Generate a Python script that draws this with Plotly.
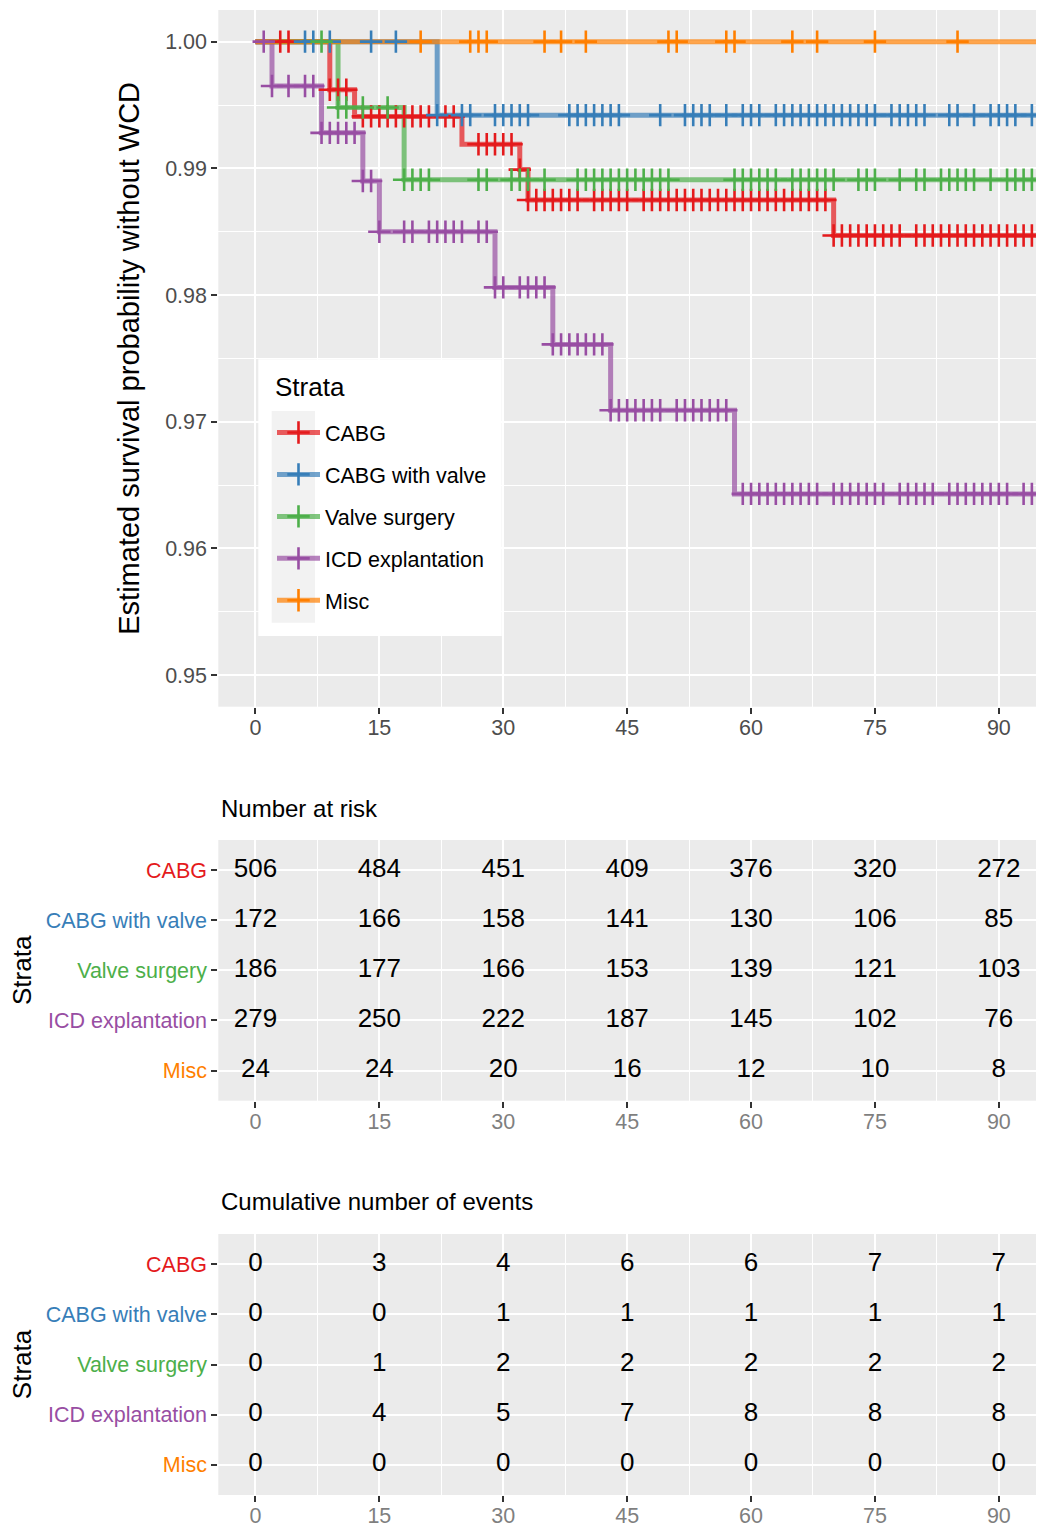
import plotly.graph_objects as go
import numpy as np

W, H = 1038, 1535

strata = ["CABG", "CABG with valve", "Valve surgery", "ICD explantation", "Misc"]
colors = ["#E41A1C", "#377EB8", "#4DAF4A", "#984EA3", "#FF7F00"]

# Kaplan-Meier steps: event times and survival just after each event
cabg_event_t = [9, 12, 25, 32, 33, 70]
cabg_event_s = [0.9962, 0.9941, 0.9919, 0.9899, 0.9875, 0.9847]
cabgv_event_t = [22]
cabgv_event_s = [0.9942]
valve_event_t = [10, 18]
valve_event_s = [0.9948, 0.9891]
icd_event_t = [2, 8, 13, 15, 29, 36, 43, 58]
icd_event_s = [0.9965, 0.9928, 0.9890, 0.9850, 0.9806, 0.9761, 0.9709, 0.9643]
misc_event_t = []
misc_event_s = []

# censoring times (days)
cabg_censor = [3, 4, 9, 10, 11, 13, 14, 15, 16, 17, 18, 19, 20, 21, 23, 24, 27, 28, 29, 30, 31, 32,
               33, 34, 35, 36, 37, 38, 39, 41, 42, 43, 44, 45, 47, 48, 49, 50, 51, 52, 53, 54, 55,
               56, 57, 58, 59, 60, 61, 62, 63, 64, 65, 66, 67, 68, 69, 70, 71, 72, 73, 74, 75, 76,
               77, 78, 80, 81, 82, 83, 84, 85, 86, 87, 88, 89, 90, 91, 92, 93, 94]
cabgv_censor = [6, 7, 9, 14, 17, 22, 25, 26, 29, 30, 31, 32, 33, 38, 39, 40, 41, 42, 43, 44, 49, 52,
                53, 54, 55, 57, 59, 60, 61, 63, 64, 65, 66, 67, 68, 69, 70, 71, 72, 73, 74, 75, 77,
                78, 79, 80, 81, 84, 85, 87, 89, 90, 91, 92, 94]
valve_censor = [8, 10, 11, 13, 16, 18, 19, 20, 21, 27, 28, 31, 32, 33, 35, 39, 40, 41, 42, 43, 44,
                45, 46, 47, 48, 49, 50, 58, 59, 60, 61, 62, 63, 65, 66, 67, 68, 69, 70, 73, 74, 75,
                78, 80, 81, 83, 84, 85, 86, 87, 89, 91, 92, 93, 94]
icd_censor = [1, 2, 4, 6, 7, 8, 9, 10, 11, 12, 13, 14, 15, 18, 19, 21, 22, 23, 24, 25, 27, 28, 29,
              30, 32, 33, 34, 35, 36, 37, 38, 39, 40, 41, 42, 43, 44, 45, 46, 47, 48, 49, 51, 52,
              53, 54, 55, 56, 57, 59, 60, 61, 62, 63, 64, 65, 66, 67, 68, 70, 71, 72, 73, 74, 75,
              76, 78, 79, 80, 81, 82, 84, 85, 86, 87, 88, 89, 90, 91, 93, 94]
misc_censor = [20, 26, 27, 28, 35, 37, 40, 50, 51, 57, 58, 65, 68, 75, 85]

followup_end = 95

# risk table / cumulative events at table times
table_times = [0, 15, 30, 45, 60, 75, 90]
cabg_risk = [506, 484, 451, 409, 376, 320, 272]
cabgv_risk = [172, 166, 158, 141, 130, 106, 85]
valve_risk = [186, 177, 166, 153, 139, 121, 103]
icd_risk = [279, 250, 222, 187, 145, 102, 76]
misc_risk = [24, 24, 20, 16, 12, 10, 8]
cabg_cum = [0, 3, 4, 6, 6, 7, 7]
cabgv_cum = [0, 0, 1, 1, 1, 1, 1]
valve_cum = [0, 1, 2, 2, 2, 2, 2]
icd_cum = [0, 4, 5, 7, 8, 8, 8]
misc_cum = [0, 0, 0, 0, 0, 0, 0]

event_t = [cabg_event_t, cabgv_event_t, valve_event_t, icd_event_t, misc_event_t]
event_s = [cabg_event_s, cabgv_event_s, valve_event_s, icd_event_s, misc_event_s]
censors = [cabg_censor, cabgv_censor, valve_censor, icd_censor, misc_censor]
risks = [cabg_risk, cabgv_risk, valve_risk, icd_risk, misc_risk]
cums = [cabg_cum, cabgv_cum, valve_cum, icd_cum, misc_cum]

FONT = "Liberation Sans, Arial, Helvetica, sans-serif"


def rgba(hexc, a):
    h = hexc.lstrip("#")
    return "rgba(%d,%d,%d,%s)" % (int(h[0:2], 16), int(h[2:4], 16), int(h[4:6], 16), a)


def surv_at(t, et, es):
    s = 1.0
    for ti, si in zip(et, es):
        if ti <= t:
            s = si
    return s


fig = go.Figure()

# step lines
for i, name in enumerate(strata):
    xs = [0] + list(event_t[i]) + [followup_end]
    ys = [1.0] + list(event_s[i]) + [event_s[i][-1] if event_s[i] else 1.0]
    fig.add_trace(go.Scatter(x=xs, y=ys, mode="lines", line=dict(shape="hv", width=5, color=rgba(colors[i], 0.7)),
                             showlegend=False, hoverinfo="skip", xaxis="x", yaxis="y"))
# censor marks
for i, name in enumerate(strata):
    cy = [surv_at(t, event_t[i], event_s[i]) for t in censors[i]]
    fig.add_trace(go.Scatter(x=censors[i], y=cy, mode="markers",
                             marker=dict(symbol="cross-thin", size=16, line=dict(width=2.6, color=colors[i])),
                             showlegend=False, hoverinfo="skip", xaxis="x", yaxis="y"))
# legend entries
for i, name in enumerate(strata):
    fig.add_trace(go.Scatter(x=[None], y=[None], mode="lines+markers", name=name, legendgroup=name,
                             line=dict(width=5, color=rgba(colors[i], 0.7)),
                             marker=dict(symbol="cross-thin", size=16, line=dict(width=2.6, color=colors[i])),
                             xaxis="x", yaxis="y"))

# tables
rows = [5, 4, 3, 2, 1]
for i, name in enumerate(strata):
    fig.add_trace(go.Scatter(x=table_times, y=[rows[i]] * len(table_times), mode="text",
                             text=[str(v) for v in risks[i]], textfont=dict(size=26, color="black", family=FONT),
                             showlegend=False, hoverinfo="skip", cliponaxis=False, xaxis="x2", yaxis="y2"))
    fig.add_trace(go.Scatter(x=table_times, y=[rows[i]] * len(table_times), mode="text",
                             text=[str(v) for v in cums[i]], textfont=dict(size=26, color="black", family=FONT),
                             showlegend=False, hoverinfo="skip", cliponaxis=False, xaxis="x3", yaxis="y3"))


def px_x(p):
    return p / W


def px_y(p):
    return 1 - p / H


xdom = [px_x(218.3), px_x(1036)]
common_x = dict(range=[-4.5, 94.5], tickvals=table_times, showgrid=True, gridcolor="white", gridwidth=2.4,
                minor=dict(dtick=7.5, tick0=7.5, showgrid=True, gridcolor="white", gridwidth=1.4),
                ticks="outside", ticklen=6, tickwidth=2.4, tickcolor="#333333", zeroline=False,
                showline=False, domain=xdom, fixedrange=True, ticklabelstandoff=-5)
tick_y_text = ['<span style="color:%s">%s</span>' % (c, n) for c, n in zip(colors, strata)]
common_ty = dict(range=[0.4, 5.6], tickvals=rows, ticktext=tick_y_text, showgrid=True, gridcolor="white",
                 gridwidth=2.4, ticks="outside", ticklen=6, tickwidth=2.4, tickcolor="#333333",
                 zeroline=False, showline=False, tickfont=dict(size=21.5, family=FONT),
                 title=dict(text="Strata", font=dict(size=26, color="black", family=FONT), standoff=6))

fig.update_layout(
    width=W, height=H, margin=dict(l=0, r=0, t=0, b=0),
    paper_bgcolor="white", plot_bgcolor="#EBEBEB",
    font=dict(family=FONT, color="black"),
    xaxis=dict(**common_x, anchor="y", tickfont=dict(size=21.5, color="#4D4D4D", family=FONT)),
    yaxis=dict(domain=[px_y(706.7), px_y(10)], range=[0.9475, 1.0025],
               tickvals=[0.95, 0.96, 0.97, 0.98, 0.99, 1.00], tickformat=".2f",
               showgrid=True, gridcolor="white", gridwidth=2.4,
               minor=dict(dtick=0.005, tick0=0.945, showgrid=True, gridcolor="white", gridwidth=1.4),
               ticks="outside", ticklen=6, tickwidth=2.4, tickcolor="#333333", zeroline=False,
               showline=False, anchor="x", tickfont=dict(size=21.5, color="#4D4D4D", family=FONT),
               title=dict(text="Estimated survival probability without WCD",
                          font=dict(size=29, color="black", family=FONT), standoff=16)),
    xaxis2=dict(**common_x, anchor="y2", tickfont=dict(size=21.5, color="#7F7F7F", family=FONT)),
    yaxis2=dict(**common_ty, domain=[px_y(1100.7), px_y(840)], anchor="x2"),
    xaxis3=dict(**common_x, anchor="y3", tickfont=dict(size=21.5, color="#7F7F7F", family=FONT)),
    yaxis3=dict(**common_ty, domain=[px_y(1495), px_y(1234)], anchor="x3"),
    legend=dict(x=px_x(272), y=px_y(412), xanchor="left", yanchor="top", bgcolor="rgba(0,0,0,0)",
                borderwidth=0, font=dict(size=21.5, color="black", family=FONT),
                tracegroupgap=11, itemwidth=43, traceorder="grouped"),
    shapes=[
        dict(type="rect", xref="paper", yref="paper", x0=px_x(258.3), x1=px_x(501.7), y0=px_y(636),
             y1=px_y(359.3), fillcolor="white", line=dict(width=0), layer="above"),
        dict(type="rect", xref="paper", yref="paper", x0=px_x(271.7), x1=px_x(315), y0=px_y(622.7),
             y1=px_y(411), fillcolor="#F2F2F2", line=dict(width=0), layer="above"),
    ],
    annotations=[
        dict(text="Strata", xref="paper", yref="paper", x=px_x(273), y=px_y(387),
             xanchor="left", yanchor="middle", showarrow=False, font=dict(size=26, color="black", family=FONT)),
        dict(text="Number at risk", xref="paper", yref="paper", x=px_x(219), y=px_y(808),
             xanchor="left", yanchor="middle", showarrow=False, font=dict(size=24, color="black", family=FONT)),
        dict(text="Cumulative number of events", xref="paper", yref="paper", x=px_x(219), y=px_y(1201),
             xanchor="left", yanchor="middle", showarrow=False, font=dict(size=24, color="black", family=FONT)),
    ],
)

fig.write_html("out.html")
